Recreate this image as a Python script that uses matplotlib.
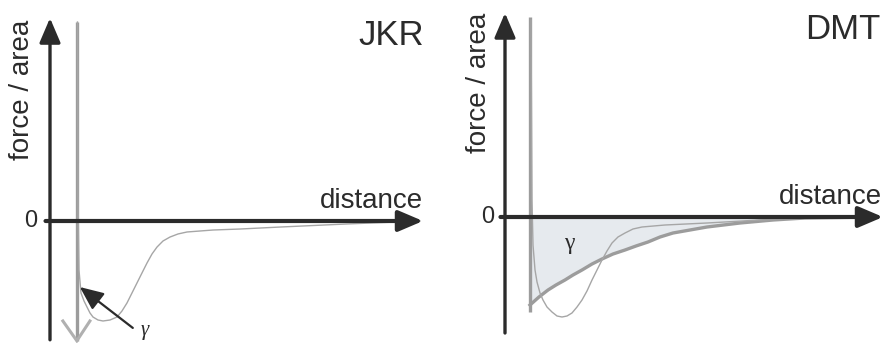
import matplotlib
matplotlib.use("Agg")
import matplotlib.pyplot as plt

plt.rcParams['font.family'] = ['Liberation Sans', 'DejaVu Sans']

# ---------------- data (distance, force/area in arbitrary units) ----------------
# JKR panel
jkr_contact = 0.72
jkr_wall_top = 2.01
jkr_wall_bottom = -1.21
jkr_lj_d = [0.737, 0.751, 0.777, 0.831, 0.912, 0.992, 1.072, 1.153, 1.287, 1.421, 1.609,
            1.796, 1.930, 2.064, 2.198, 2.332, 2.466, 2.601, 2.735, 2.869, 3.029, 3.217,
            3.432, 3.673, 4.021, 4.370, 5.094, 6.166, 7.962, 9.303, 9.920]
jkr_lj_f = [2.01, 0.212, -0.495, -0.727, -0.808, -0.869, -0.929, -0.970, -1.000, -1.010, -1.000,
            -0.970, -0.909, -0.828, -0.727, -0.626, -0.525, -0.424, -0.333, -0.263, -0.202, -0.162,
            -0.131, -0.111, -0.101, -0.091, -0.081, -0.061, -0.030, -0.010, 0.0]

# DMT panel
dmt_contact = 0.661
dmt_wall_top = 2.0
dmt_wall_bottom = -0.95
dmt_force_d = [0.661, 0.899, 1.138, 1.349, 1.587, 1.799, 2.037, 2.302, 2.566, 2.857, 3.175,
               3.466, 3.783, 4.101, 4.444, 4.894, 5.344, 6.217, 7.090, 7.937, 8.862, 9.656]
dmt_force_f = [-0.88, -0.80, -0.73, -0.68, -0.63, -0.58, -0.53, -0.47, -0.42, -0.37, -0.33,
               -0.29, -0.25, -0.20, -0.16, -0.13, -0.10, -0.06, -0.03, -0.01, -0.005, 0.0]
dmt_lj_d = [0.688, 0.714, 0.741, 0.794, 0.847, 0.926, 1.005, 1.111, 1.243, 1.376, 1.508,
            1.640, 1.772, 1.905, 2.037, 2.169, 2.302, 2.434, 2.566, 2.698, 2.831, 2.989,
            3.175, 3.386, 3.624, 4.233, 5.344, 6.746, 7.989, 9.656]
dmt_lj_f = [1.97, 0.17, -0.28, -0.53, -0.65, -0.76, -0.83, -0.90, -0.95, -0.99, -1.00,
            -0.99, -0.96, -0.90, -0.83, -0.74, -0.63, -0.53, -0.43, -0.34, -0.26, -0.20,
            -0.16, -0.12, -0.10, -0.08, -0.06, -0.03, -0.01, 0.0]

axis_len = 10.0
panel_titles = ["JKR", "DMT"]

# ---------------- drawing ----------------
W, H = 886, 343
fig = plt.figure(figsize=(W / 100, H / 100), dpi=100)
fig.patch.set_facecolor('white')

dark = '#2b2b2b'
grey_thick = '#9c9c9c'
grey_thin = '#a6a6a6'
shade = '#e6eaee'

axL = fig.add_axes([0, 0, 443 / W, 1])
axR = fig.add_axes([443 / W, 0, 443 / W, 1])

axL.set_xlim((0 - 50) / 37.3, (443 - 50) / 37.3)
axL.set_ylim((221 - 343) / 99, 221 / 99)
axR.set_xlim((443 - 505) / 37.8, (886 - 505) / 37.8)
axR.set_ylim((217 - 343) / 100, 217 / 100)

for ax in (axL, axR):
    ax.axis('off')


def axes_arrows(ax, ybot, ytop, xleft):
    arrow = dict(arrowstyle='-|>,head_length=0.75,head_width=0.32', color=dark,
                 lw=2.4, mutation_scale=20, shrinkA=0, shrinkB=0)
    ax.annotate('', xy=(0, ytop), xytext=(0, ybot), arrowprops=arrow, zorder=5,
                annotation_clip=False)
    arrow2 = dict(arrow)
    arrow2['lw'] = 3.0
    ax.annotate('', xy=(axis_len, 0), xytext=(xleft, 0), arrowprops=arrow2, zorder=5,
                annotation_clip=False)


# ---- JKR ----
axL.plot([jkr_contact, jkr_contact], [jkr_wall_top, jkr_wall_bottom], color=grey_thick,
         lw=2.4, solid_capstyle='butt', zorder=3)
axL.plot([jkr_contact - 0.375, jkr_contact, jkr_contact + 0.35],
         [jkr_wall_bottom + 0.20, jkr_wall_bottom, jkr_wall_bottom + 0.20],
         color='#b0b0b0', lw=2.2, zorder=3, solid_joinstyle='miter')
axL.plot(jkr_lj_d, jkr_lj_f, color=grey_thin, lw=1.0, zorder=4)
axes_arrows(axL, -1.20, 2.05, -0.12)
axL.annotate('', xy=(0.80, -0.667), xytext=(2.22, -1.08),
             arrowprops=dict(arrowstyle='-|>,head_length=0.8,head_width=0.35', color=dark,
                             lw=1.6, mutation_scale=18, shrinkA=0, shrinkB=0), zorder=6)
axL.text(2.55, -1.11, 'γ', family=['Liberation Serif'], style='italic', fontsize=15,
         color=dark, ha='center', va='center')

# ---- DMT ----
axR.fill_between(dmt_force_d, dmt_force_f, 0, color=shade, lw=0, zorder=1)
axR.plot([dmt_contact, dmt_contact], [dmt_wall_top, dmt_wall_bottom], color=grey_thick,
         lw=2.4, solid_capstyle='butt', zorder=3)
axR.plot(dmt_force_d, dmt_force_f, color=grey_thick, lw=2.4, zorder=3)
axR.plot(dmt_lj_d, dmt_lj_f, color=grey_thin, lw=1.0, zorder=4)
axes_arrows(axR, -1.16, 2.04, -0.12)
axR.text(1.69, -0.27, 'γ', family=['Liberation Serif'], fontsize=17, color=dark,
         ha='center', va='center')

# ---- texts ----
for ax, title, (ylx, yly), zx, tx in (
        (axL, panel_titles[0], (-0.75, 1.32), -0.51, 10.03),
        (axR, panel_titles[1], (-0.69, 1.34), -0.45, 9.92)):
    ax.text(ylx, yly, 'force / area', rotation=90, fontsize=20, color=dark,
            ha='center', va='center')
    ax.text(zx, 0, '0', fontsize=17, color=dark, ha='center', va='center')
    ax.text(tx, 1.78, title, fontsize=25, color=dark, ha='right', va='baseline')

axL.text(10.0, 0.13, 'distance', fontsize=20, color=dark, ha='right', va='baseline')
axR.text(9.97, 0.13, 'distance', fontsize=20, color=dark, ha='right', va='baseline')

fig.savefig('out.png', dpi=100, facecolor='white')
